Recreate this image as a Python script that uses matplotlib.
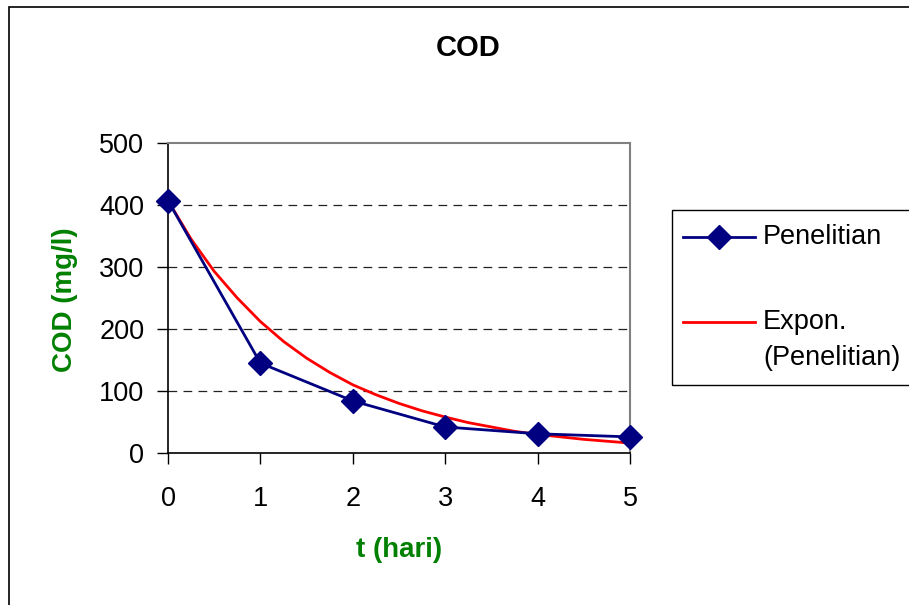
import matplotlib
matplotlib.use("Agg")
import matplotlib.pyplot as plt
from matplotlib.patches import Rectangle
from matplotlib.lines import Line2D

plt.rcParams['font.family'] = ['Liberation Sans', 'DejaVu Sans']

# measured COD per day
days = [0, 1, 2, 3, 4, 5]
cod = [407, 145, 84, 42, 31, 26]

# exponential trendline
trend_t = [0, 0.25, 0.5, 0.75, 1, 1.25, 1.5, 1.75, 2, 2.25, 2.5,
           2.75, 3, 3.25, 3.5, 3.75, 4, 4.25, 4.5, 4.75, 5]
trend_cod = [407, 345, 293, 250, 212, 180, 153, 130, 110, 94, 80,
             68, 58, 49, 42, 35, 30, 26, 22, 19, 16]

y_ticks = [0, 100, 200, 300, 400, 500]
x_ticks = [0, 1, 2, 3, 4, 5]

W, H = 909, 605
fig = plt.figure(figsize=(W / 100, H / 100), dpi=100)

# outer chart border (cut off on right and bottom)
fig.add_artist(Rectangle((9 / W, -0.1), 1.2, 1 - 7 / H + 0.1,
                         transform=fig.transFigure, fill=False,
                         edgecolor='black', linewidth=1.2))

ax = fig.add_axes([168 / W, 1 - 453 / H, 462 / W, 310 / H])

ax.plot(trend_t, trend_cod, color='#ff0000', linewidth=2, zorder=3)
ax.plot(days, cod, color='#000080', linewidth=2, marker='D',
        markersize=12, clip_on=False, zorder=4)

ax.set_xlim(0, 5)
ax.set_ylim(0, 500)
ax.set_xticks(x_ticks)
ax.set_yticks(y_ticks)
ax.tick_params(axis='y', direction='out', length=8, width=1, pad=9, labelsize=19.5)
ax.tick_params(axis='x', direction='out', length=8, width=1, pad=16, labelsize=19.5)

for v in y_ticks[1:-1]:
    ax.axhline(v, color='#222222', linewidth=0.9, linestyle=(0, (7, 5)), zorder=1)

for side in ['top', 'right']:
    ax.spines[side].set_color('#808080')
    ax.spines[side].set_linewidth(1.5)
for side in ['left', 'bottom']:
    ax.spines[side].set_color('black')
    ax.spines[side].set_linewidth(1.2)

ax.set_xlabel('t (hari)', fontsize=20, fontweight='bold', color='#008000')
ax.set_ylabel('COD (mg/l)', fontsize=20, fontweight='bold', color='#008000')
ax.xaxis.set_label_coords(0.5, -0.313)
ax.yaxis.set_label_coords(-0.223, 0.494)
ax.xaxis.label.set_va('center')
ax.yaxis.label.set_va('center')

fig.text(468 / W, 1 - 48 / H, 'COD', fontsize=21, fontweight='bold',
         ha='center', va='center')

# legend box, drawn like the Excel one
fig.add_artist(Rectangle((672 / W, 1 - 385 / H), 0.5, 175 / H,
                         transform=fig.transFigure, fill=False,
                         edgecolor='black', linewidth=1.0))
fig.add_artist(Line2D([683 / W, 755 / W], [1 - 237 / H] * 2,
                      transform=fig.transFigure, color='#000080',
                      linewidth=2))
fig.add_artist(Line2D([719 / W], [1 - 237 / H], transform=fig.transFigure,
                      color='#000080', marker='D', markersize=12))
fig.add_artist(Line2D([683 / W, 755 / W], [1 - 322 / H] * 2,
                      transform=fig.transFigure, color='#ff0000',
                      linewidth=2))
fig.text(763 / W, 1 - 237 / H, 'Penelitian', fontsize=19.5, va='center')
fig.text(763 / W, 1 - 322 / H, 'Expon.', fontsize=19.5, va='center')
fig.text(763 / W, 1 - 358 / H, '(Penelitian)', fontsize=19.5, va='center')

fig.savefig('out.png', dpi=100, facecolor='white')
